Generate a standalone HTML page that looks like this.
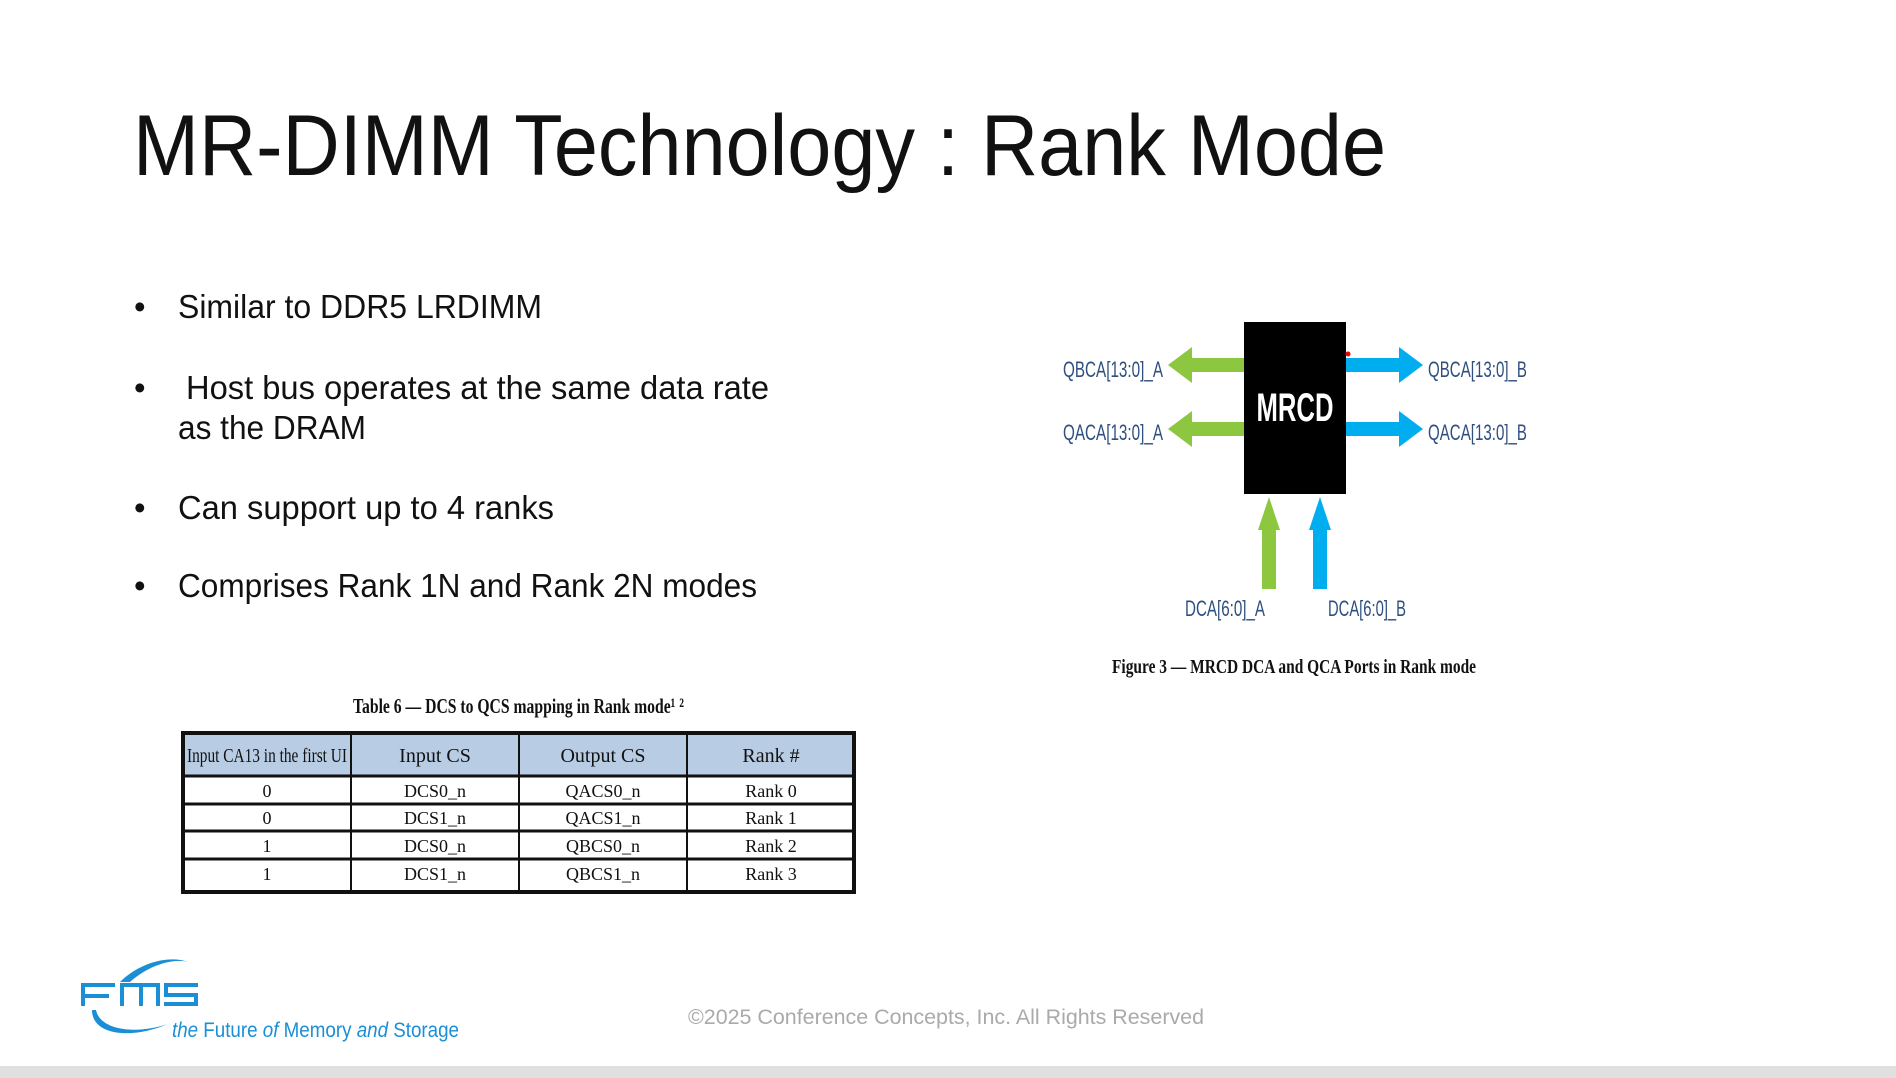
<!DOCTYPE html>
<html><head><meta charset="utf-8"><style>
html,body{margin:0;padding:0;background:#fff;}
svg{display:block;}
</style></head><body>
<svg width="1896" height="1078" viewBox="0 0 1896 1078" xmlns="http://www.w3.org/2000/svg">
<rect width="1896" height="1078" fill="#fff"/>
<rect x="0" y="1066" width="1896" height="12" fill="#e0e0e0"/>
<text x="133" y="175" font-family="Liberation Sans, sans-serif" font-size="86" fill="#111" textLength="1253" lengthAdjust="spacingAndGlyphs">MR-DIMM Technology : Rank Mode</text>
<g font-family="Liberation Sans, sans-serif" font-size="33" fill="#111">
<text x="134" y="318">•</text><text x="178" y="318" textLength="364" lengthAdjust="spacingAndGlyphs">Similar to DDR5 LRDIMM</text>
<text x="134" y="399">•</text><text x="186" y="399" textLength="583" lengthAdjust="spacingAndGlyphs">Host bus operates at the same data rate</text>
<text x="178" y="439" textLength="188" lengthAdjust="spacingAndGlyphs">as the DRAM</text>
<text x="134" y="519">•</text><text x="178" y="519" textLength="376" lengthAdjust="spacingAndGlyphs">Can support up to 4 ranks</text>
<text x="134" y="597">•</text><text x="178" y="597" textLength="579" lengthAdjust="spacingAndGlyphs">Comprises Rank 1N and Rank 2N modes</text>
</g>
<!-- diagram -->
<rect x="1244" y="322" width="102" height="172" fill="#000"/>
<text x="1295" y="421" font-family="Liberation Sans, sans-serif" font-weight="bold" font-size="40" fill="#fff" text-anchor="middle" textLength="77" lengthAdjust="spacingAndGlyphs">MRCD</text>
<circle cx="1348" cy="354" r="2.5" fill="#e00"/>
<g fill="#8dc63f">
<polygon points="1244,358 1192,358 1192,347 1168,365 1192,383 1192,372 1244,372"/>
<polygon points="1244,422 1192,422 1192,411 1168,429 1192,447 1192,436 1244,436"/>
<polygon points="1262,589 1262,530 1258,530 1269,497 1280,530 1276,530 1276,589"/>
</g>
<g fill="#00aeef">
<polygon points="1346,358 1399,358 1399,347 1423,365 1399,383 1399,372 1346,372"/>
<polygon points="1346,422 1399,422 1399,411 1423,429 1399,447 1399,436 1346,436"/>
<polygon points="1313,589 1313,530 1309,530 1320,497 1331,530 1327,530 1327,589"/>
</g>
<g font-family="Liberation Sans, sans-serif" font-size="22" fill="#2f4f7f">
<text x="1063" y="377" textLength="100" lengthAdjust="spacingAndGlyphs">QBCA[13:0]_A</text>
<text x="1063" y="440" textLength="100" lengthAdjust="spacingAndGlyphs">QACA[13:0]_A</text>
<text x="1428" y="377" textLength="99" lengthAdjust="spacingAndGlyphs">QBCA[13:0]_B</text>
<text x="1428" y="440" textLength="99" lengthAdjust="spacingAndGlyphs">QACA[13:0]_B</text>
<text x="1185" y="616" textLength="80" lengthAdjust="spacingAndGlyphs">DCA[6:0]_A</text>
<text x="1328" y="616" textLength="78" lengthAdjust="spacingAndGlyphs">DCA[6:0]_B</text>
</g>
<text x="1112" y="673" font-family="Liberation Serif, serif" font-weight="bold" font-size="20" fill="#111" textLength="364" lengthAdjust="spacingAndGlyphs">Figure 3 — MRCD DCA and QCA Ports in Rank mode</text>
<!-- table -->
<text x="353" y="713" font-family="Liberation Serif, serif" font-weight="bold" font-size="21" fill="#111" textLength="331" lengthAdjust="spacingAndGlyphs">Table 6 — DCS to QCS mapping in Rank mode¹ ²</text>
<rect x="183" y="733" width="671" height="43" fill="#b8cce4"/>
<g stroke="#111" fill="none">
<rect x="183" y="733" width="671" height="159" stroke-width="4"/>
<line x1="183" y1="776" x2="854" y2="776" stroke-width="3"/>
<line x1="183" y1="804" x2="854" y2="804" stroke-width="3"/>
<line x1="183" y1="831" x2="854" y2="831" stroke-width="3"/>
<line x1="183" y1="859" x2="854" y2="859" stroke-width="3"/>
<line x1="351" y1="733" x2="351" y2="892" stroke-width="2"/>
<line x1="519" y1="733" x2="519" y2="892" stroke-width="2"/>
<line x1="687" y1="733" x2="687" y2="892" stroke-width="2"/>
</g>
<g font-family="Liberation Serif, serif" font-size="18" fill="#111" text-anchor="middle">
<text x="267" y="762" font-size="20" textLength="160" lengthAdjust="spacingAndGlyphs">Input CA13 in the first UI</text>
<text x="435" y="762" font-size="20">Input CS</text>
<text x="603" y="762" font-size="20">Output CS</text>
<text x="771" y="762" font-size="20">Rank #</text>
<text x="267" y="797">0</text><text x="435" y="797">DCS0_n</text><text x="603" y="797">QACS0_n</text><text x="771" y="797">Rank 0</text>
<text x="267" y="824">0</text><text x="435" y="824">DCS1_n</text><text x="603" y="824">QACS1_n</text><text x="771" y="824">Rank 1</text>
<text x="267" y="852">1</text><text x="435" y="852">DCS0_n</text><text x="603" y="852">QBCS0_n</text><text x="771" y="852">Rank 2</text>
<text x="267" y="880">1</text><text x="435" y="880">DCS1_n</text><text x="603" y="880">QBCS1_n</text><text x="771" y="880">Rank 3</text>
</g>
<!-- logo -->
<g fill="#1a8fd6">
<path d="M120,982 C140,962 170,955 188,962 C175,958 150,964 130,982 Z"/>
<path d="M92,1010 C92,1035 130,1040 168,1024 C135,1035 100,1030 96,1010 Z"/>
<rect x="81" y="983" width="34" height="4"/><rect x="81" y="994" width="28" height="4"/><rect x="81" y="983" width="4" height="23"/>
<rect x="120" y="983" width="4" height="23"/><rect x="120" y="983" width="40" height="4"/><rect x="139" y="983" width="4" height="23"/><rect x="156" y="983" width="4" height="23"/>
<rect x="164" y="983" width="34" height="4"/><rect x="164" y="983" width="4" height="12"/><rect x="164" y="993" width="34" height="4"/><rect x="194" y="993" width="4" height="13"/><rect x="164" y="1002" width="34" height="4"/>
</g>
<text x="172" y="1037" font-family="Liberation Sans, sans-serif" font-size="21" fill="#1a8fd6" textLength="287" lengthAdjust="spacingAndGlyphs"><tspan font-style="italic">the</tspan> Future <tspan font-style="italic">of</tspan> Memory <tspan font-style="italic">and</tspan> Storage</text>
<text x="688" y="1024" font-family="Liberation Sans, sans-serif" font-size="21" fill="#aaaaaa" textLength="516" lengthAdjust="spacingAndGlyphs">©2025 Conference Concepts, Inc. All Rights Reserved</text>
</svg>
</body></html>
